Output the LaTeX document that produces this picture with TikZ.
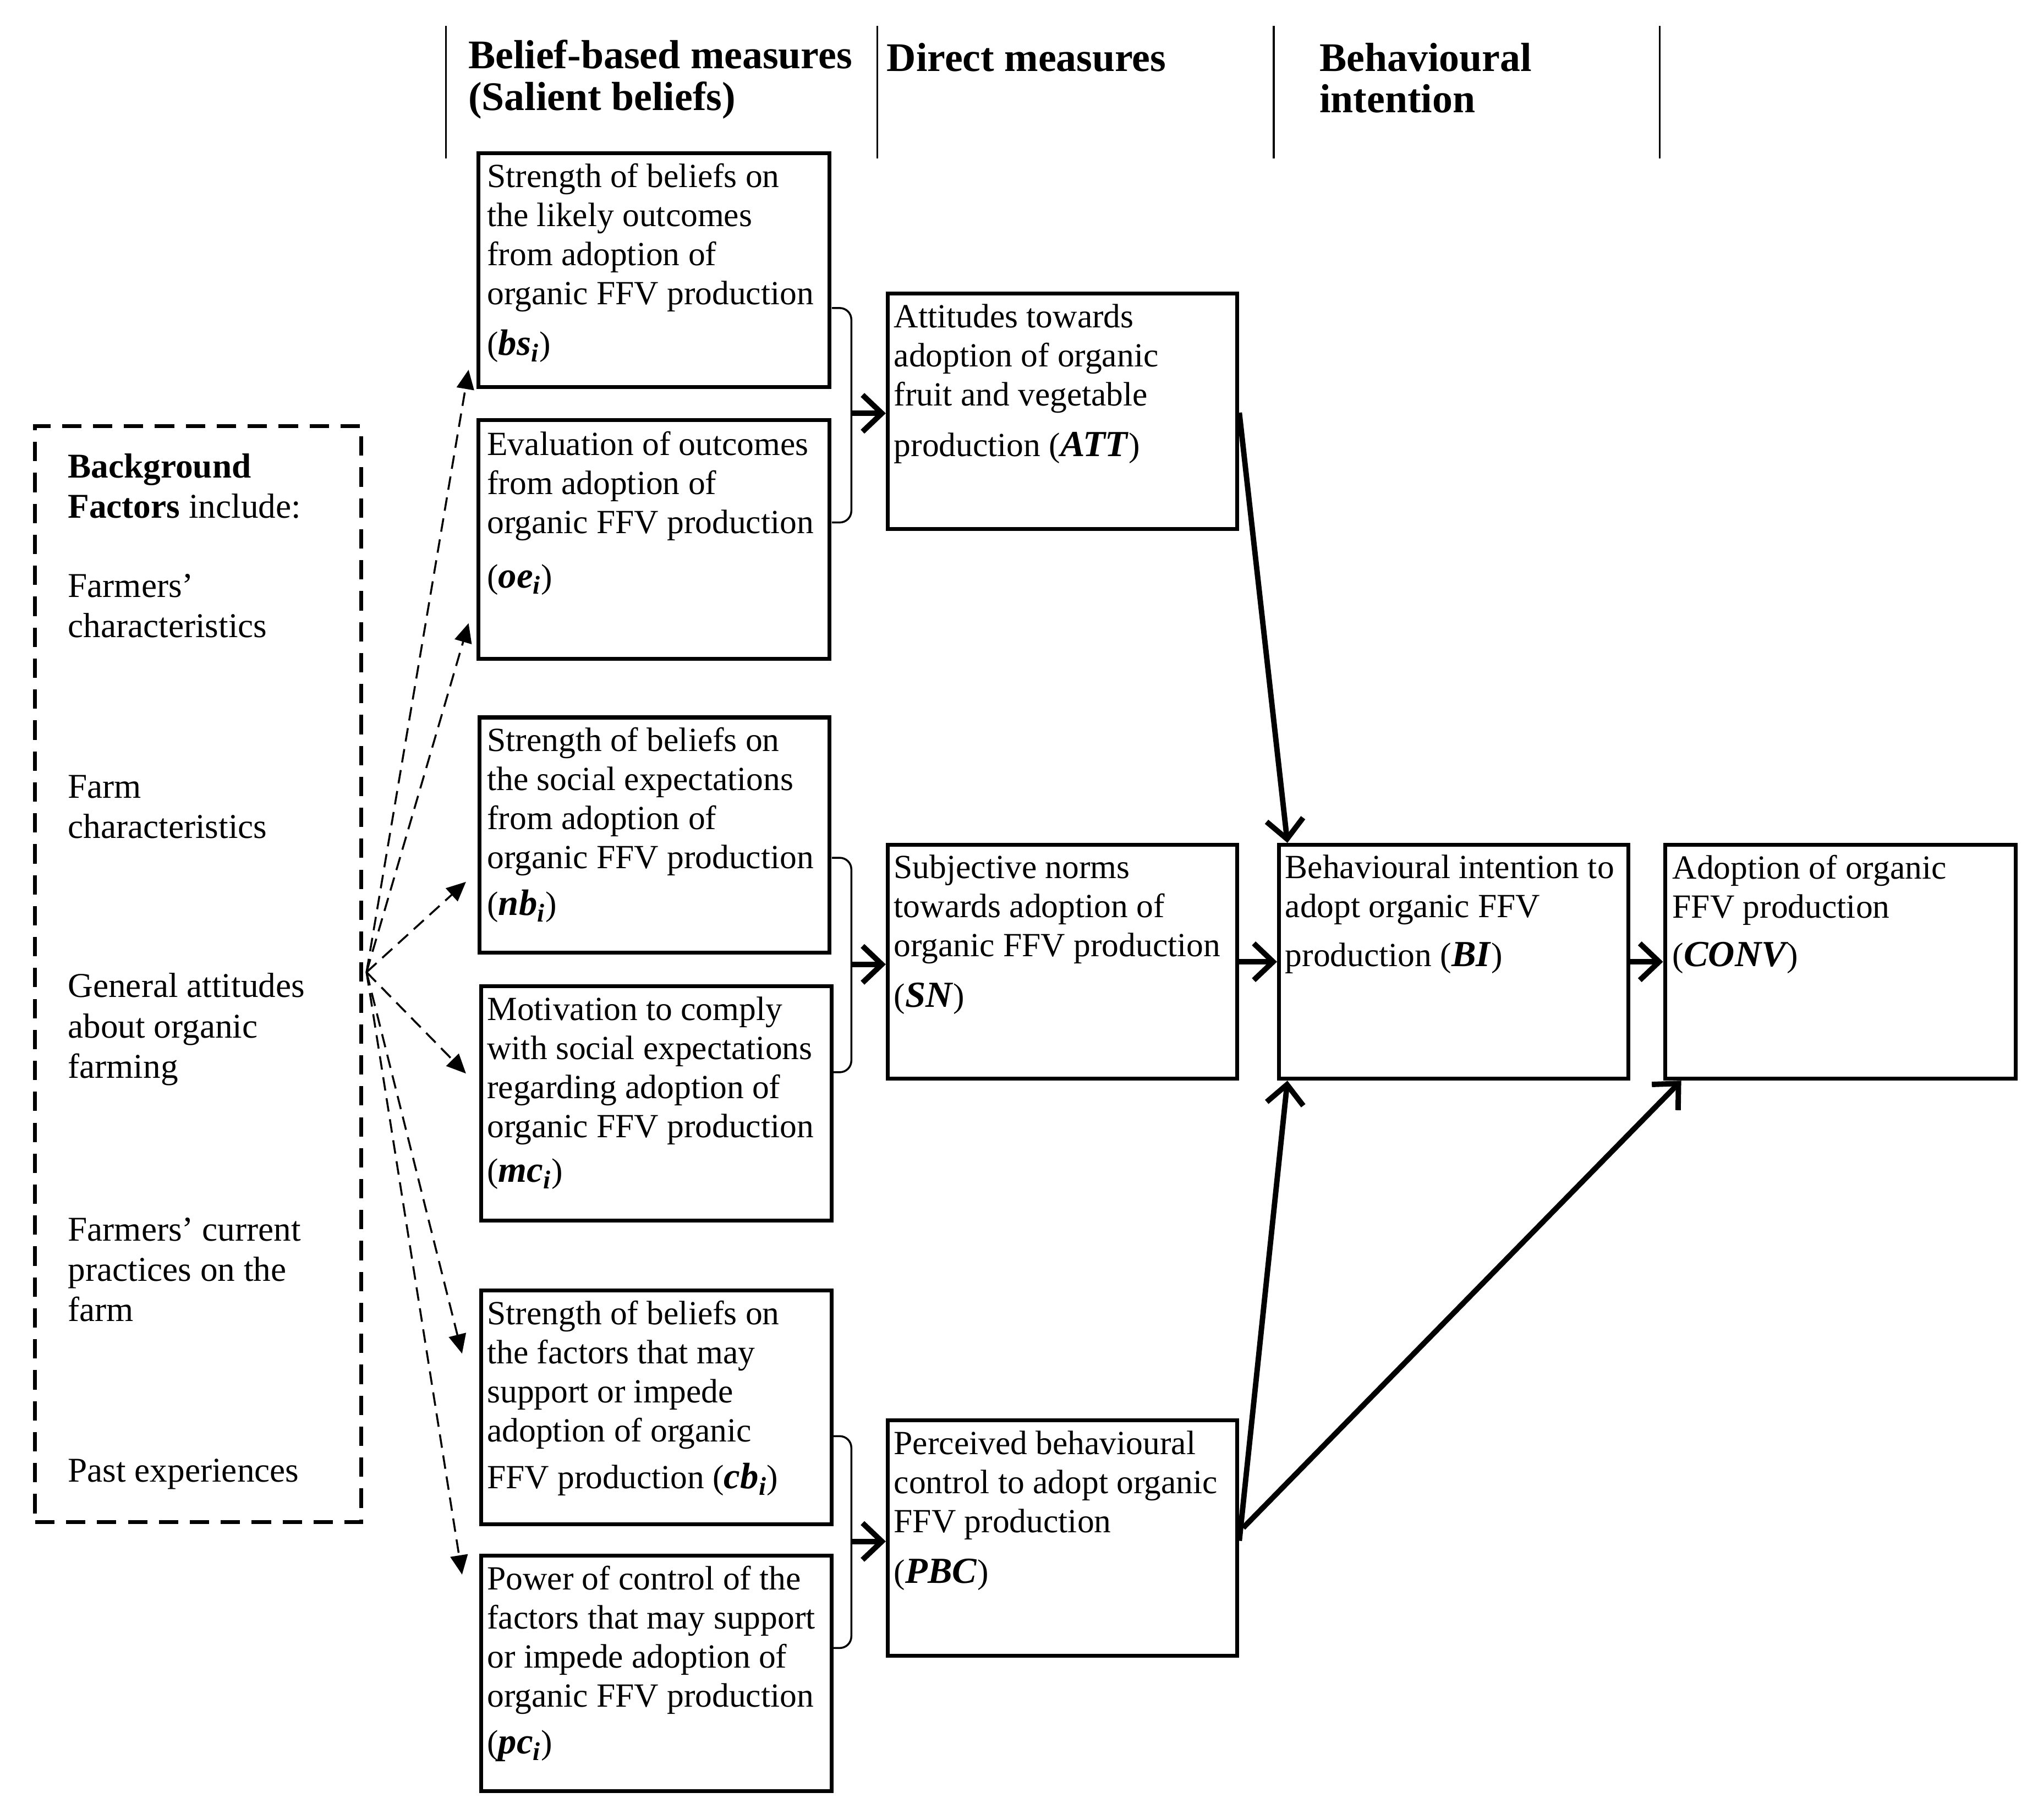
\documentclass[tikz,border=0pt]{standalone}
\usepackage{fontspec}
\setmainfont{Liberation Serif}
\usetikzlibrary{arrows.meta,calc,fit}

\newcommand{\bodyfont}{\fontsize{17.5}{20.2}\selectfont}
\newcommand{\headfont}{\fontsize{21}{21.5}\selectfont\bfseries}
\newcommand{\bgfont}{\fontsize{18}{20.8}\selectfont}
\newcommand{\mv}[2]{{\fontsize{19}{20}\selectfont\bfseries\itshape #1\textsubscript{#2}}}

\begin{document}
\begin{tikzpicture}[x=0.023622cm, y=-0.023622cm,
  box/.style={draw, line width=2pt, inner sep=0pt},
  boxtext/.style={anchor=north west, align=left, inner sep=0pt, font=\bodyfont},
  head/.style={anchor=west, align=left, inner sep=0pt, font=\headfont},
  bgtext/.style={anchor=west, align=left, inner sep=0pt, font=\bgfont},
  flow/.style={line width=2.8pt, -{Straight Barb[length=10pt,width=19pt]}},
  bgarrow/.style={line width=1pt, dash pattern=on 7pt off 4pt, -{Triangle[length=10pt,width=9pt]}},
  brace/.style={line width=1pt, rounded corners=6pt},
  colline/.style={line width=1pt}]
\useasboundingbox (0,0) rectangle (1568,1400);

% column headings
\draw[colline] (343,20) -- (343,122);
\draw[colline] (675,20) -- (675,122);
\draw[colline] (980,20) -- (980,122);
\draw[colline] (1277,20) -- (1277,122);
\node[head] (hbelief) at (360,61) {Belief-based measures\\(Salient beliefs)};
\node[head] (hdirect) at (682,44) {Direct measures};
\node[head] (hintent) at (1015,60) {Behavioural\\intention};

% background factors
\node[box, dash pattern=on 10pt off 6pt, fit={(27,328) (278,1171)}] (bg) {};
\node[bgtext] (bg1) at (52,374) {\textbf{Background}\\\textbf{Factors} include:};
\node[bgtext] (bg2) at (52,466) {Farmers’\\characteristics};
\node[bgtext] (bg3) at (52,621) {Farm\\characteristics};
\node[bgtext] (bg4) at (52,792) {General attitudes\\about organic\\farming};
\node[bgtext] (bg5) at (52,977) {Farmers’ current\\practices on the\\farm};
\node[bgtext] (bg6) at (52,1134) {Past experiences};

% salient beliefs
\node[box, fit={(368,118) (638,298)}] (bs) {};
\node[boxtext] at ($(bs.north west)+(8,9)$) {Strength of beliefs on\\the likely outcomes\\from adoption of\\organic FFV production\\[6pt](\mv{bs}{i})};
\node[box, fit={(368,323) (638,507)}] (oe) {};
\node[boxtext] at ($(oe.north west)+(8,10)$) {Evaluation of outcomes\\from adoption of\\organic FFV production\\[8pt](\mv{oe}{i})};
\node[box, fit={(369,552) (638,733)}] (nb) {};
\node[boxtext] at ($(nb.north west)+(7,9)$) {Strength of beliefs on\\the social expectations\\from adoption of\\organic FFV production\\[4pt](\mv{nb}{i})};
\node[box, fit={(370,759) (640,939)}] (mc) {};
\node[boxtext] at ($(mc.north west)+(6,9)$) {Motivation to comply\\with social expectations\\regarding adoption of\\organic FFV production\\[3pt](\mv{mc}{i})};
\node[box, fit={(370,993) (640,1173)}] (cb) {};
\node[boxtext] at ($(cb.north west)+(6,9)$) {Strength of beliefs on\\the factors that may\\support or impede\\adoption of organic\\[4pt]FFV production (\mv{cb}{i})};
\node[box, fit={(370,1197) (640,1378)}] (pc) {};
\node[boxtext] at ($(pc.north west)+(6,9)$) {Power of control of the\\factors that may support\\or impede adoption of\\organic FFV production\\[4pt](\mv{pc}{i})};

% direct measures
\node[box, fit={(683,226) (952,407)}] (att) {};
\node[boxtext] at ($(att.north west)+(6,9)$) {Attitudes towards\\adoption of organic\\fruit and vegetable\\[6pt]production (\mv{ATT}{})};
\node[box, fit={(683,650) (952,830)}] (sn) {};
\node[boxtext] at ($(sn.north west)+(6,9)$) {Subjective norms\\towards adoption of\\organic FFV production\\[6pt](\mv{SN}{})};
\node[box, fit={(683,1093) (952,1274)}] (pbc) {};
\node[boxtext] at ($(pbc.north west)+(6,9)$) {Perceived behavioural\\control to adopt organic\\FFV production\\[6pt](\mv{PBC}{})};

% intention and behaviour
\node[box, fit={(984,650) (1253,830)}] (bi) {};
\node[boxtext] at ($(bi.north west)+(6,9)$) {Behavioural intention to\\adopt organic FFV\\[5pt]production (\mv{BI}{})};
\node[box, fit={(1281,650) (1551,830)}] (conv) {};
\node[boxtext] at ($(conv.north west)+(7,9)$) {Adoption of organic\\FFV production\\[5pt](\mv{CONV}{})};

% braces joining belief pairs
\draw[brace] (640,237) -- (655,237) -- (655,402) -- (640,402);
\draw[brace] (640,660) -- (655,660) -- (655,825) -- (640,825);
\draw[brace] (640,1105) -- (655,1105) -- (655,1268) -- (640,1268);
\coordinate (battt) at (655,318);
\coordinate (bsn) at (655,742);
\coordinate (bpbc) at (655,1186);
\draw[flow] (battt) -- (att.west |- battt);
\draw[flow] (bsn) -- (sn.west |- bsn);
\draw[flow] (bpbc) -- (pbc.west |- bpbc);

% background factors to beliefs
\coordinate (src) at (282,748);
\draw[bgarrow] (src) -- ($(bs.south west)+(-6,-15)$);
\draw[bgarrow] (src) -- ($(oe.south west)+(-6,-29)$);
\draw[bgarrow] (src) -- ($(nb.west)+(-9,36)$);
\draw[bgarrow] (src) -- ($(mc.west)+(-10,-23)$);
\draw[bgarrow] (src) -- ($(cb.north west)+(-13,50)$);
\draw[bgarrow] (src) -- ($(pc.north west)+(-13,16)$);

% model paths
\draw[flow] ($(att.east)+(0,1)$) -- ($(bi.north west)+(8,0)$);
\draw[flow] (sn.east) -- (bi.west);
\draw[flow] (bi.east) -- (conv.west);
\draw[flow] ($(pbc.east)+(0,2)$) -- ($(bi.south west)+(8,0)$);
\draw[flow] ($(pbc.east)+(3,-8)$) -- ($(conv.south west)+(14,0)$);
\end{tikzpicture}
\end{document}
